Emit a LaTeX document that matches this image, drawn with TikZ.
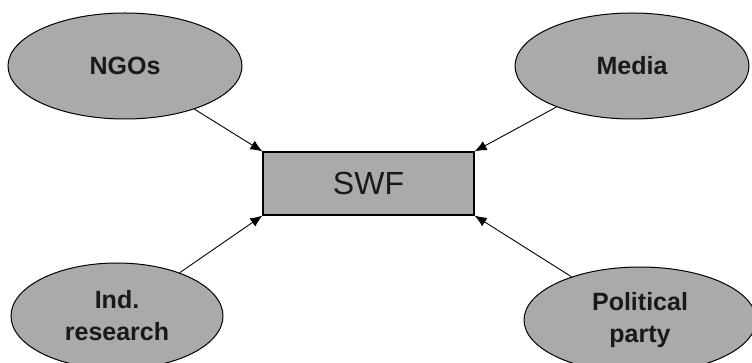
\documentclass[tikz,border=0pt]{standalone}
\usepackage{fontspec}
\setmainfont{Liberation Sans}
\usetikzlibrary{shapes.geometric, arrows.meta}
\definecolor{boxgray}{RGB}{170,170,170}
\definecolor{textgray}{RGB}{25,25,25}
\begin{document}
\begin{tikzpicture}[
			x=1pt, y=-1pt,
			% Define styles for nodes
			actor/.style={draw, ellipse, fill=boxgray, line width=1pt, inner sep=0pt, align=center,
					text=textgray, minimum width=234pt, minimum height=106pt,
					font=\fontsize{25}{32}\selectfont\bfseries},
			fund/.style={draw, rectangle, fill=boxgray, line width=1.2pt, text=textgray,
					minimum width=211pt, minimum height=63pt, font=\fontsize{32}{38}\selectfont},
			influence/.style={draw, line width=0.9pt, -{Latex[length=12pt, width=10pt]}}
		]
		\useasboundingbox (0,0) rectangle (752,363);

		% Centre node
		\node[fund] (swf) at (368.5,183.5) {SWF};
		% Actors
		\node[actor] (ngos) at (125,66) {NGOs};
		\node[actor] (media) at (632,66) {Media};
		\node[actor, minimum width=212pt] (indres) at (117,316) {Ind.\\research};
		\node[actor, minimum width=232pt] (party) at (640,320) {Political\\party};

		% Arrows
		\draw[influence] (ngos) -- (swf.north west);
		\draw[influence] (media) -- (swf.north east);
		\draw[influence] (indres) -- (swf.south west);
		\draw[influence] (party) -- (swf.south east);
	\end{tikzpicture}
\end{document}
